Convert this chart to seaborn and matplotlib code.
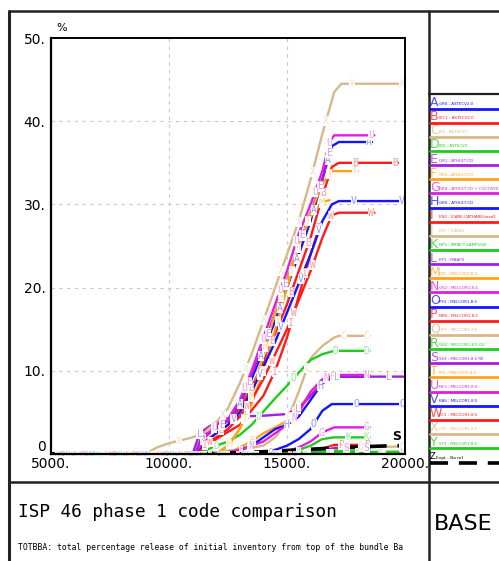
import numpy as np
import pandas as pd
import matplotlib
matplotlib.use("Agg")
import matplotlib.pyplot as plt
from matplotlib.lines import Line2D
import seaborn as sns

# ---------------- data ----------------
letters = list("ABCDEFGHIJKLMNOPQRSTUVWXY")
names = ["GRS ; ASTECV2.0", "IEC1 ; ASTECV2.0", "IPS ; ASTECV2", "IRS ; ASTECV2",
         "GR1 ; ATHLET-CD", "GR1 ; ATHLET-CD", "GR4 ; ATHLET-CD + COCOSYS", "GRS ; ATHLET-CD",
         "EN2 ; ICARE-CATHARE(mod1.", "KP1 ; ICARE2", "NPS ; IMPACT-SAMPSON", "EP1 ; MAAP4",
         "EP1 ; MELCOR1.8.4", "GS2 ; MELCOR1.8.4", "PS1 ; MELCOR1.8.5", "NRS ; MELCOR1.8.5",
         "UPS ; MELCOR1.8.5", "GS2 ; MELCOR1.8.5 G2", "SS3 ; MELCOR1.8.5 RE", "IRS ; MELCOR1.8.5",
         "NF2 ; MELCOR1.8.5", "KAS ; MELCOR1.8.5", "KC1 ; MELCOR1.8.5", "CS1 ; MELCOR1.8.5",
         "ST1 ; MELCOR1.8.5"]

A_t = [5000, 11200, 11500, 12000, 12500, 13000, 13500, 14000, 14500, 15000, 15500, 16000, 16500, 16900, 17200, 18600]
A_v = [0, 0, 2, 3.2, 4, 6, 9, 12.5, 16, 20, 24, 28, 33, 37, 37.5, 37.5]
B_t = [5000, 11200, 11500, 12000, 12500, 13000, 13500, 14000, 14500, 15000, 15500, 16000, 16500, 16900, 17200, 19700]
B_v = [0, 0, 1.5, 2.5, 3.5, 5.5, 8, 11, 14.5, 18, 22, 26, 31, 34.5, 35, 35]
C_t = [5000, 11500, 12000, 13000, 14000, 14500, 15000, 15500, 16000, 16500, 17000, 17200, 18500]
C_v = [0, 0, 0.3, 0.5, 1, 2, 4, 7.5, 11.5, 13, 14, 14.2, 14.2]
D_t = [5000, 11200, 12000, 12500, 13000, 13500, 14000, 14500, 15000, 15500, 16000, 16500, 17000, 18500]
D_v = [0, 0, 1, 1.5, 2.3, 3.5, 5.1, 6.7, 8.2, 9.8, 11.3, 12, 12.4, 12.4]
E_t = [5000, 11100, 11400, 12000, 12500, 13000, 13500, 14000, 14500, 15000, 15500, 16000, 16500, 16800]
E_v = [0, 0, 2.2, 3, 4, 6, 9.5, 13, 17, 21, 25, 29, 33, 36.5]
F_t = [5000, 12500, 13000, 13500, 14000, 14500, 15000, 15500, 16000, 16500, 17000, 18500]
F_v = [0, 0, 0.8, 1.5, 2.5, 3.2, 4, 5.5, 7.3, 8.7, 9.3, 9.3]
G_t = [5000, 14000, 15000, 15500, 16000, 16500, 17000, 18500]
G_v = [0, 0, 0.3, 0.8, 1.5, 2.6, 3.2, 3.2]
H_t = [5000, 12500, 13000, 13500, 14000, 14500, 15000, 15500, 16000, 16500, 17000, 18500]
H_v = [0, 0, 0.5, 1, 2, 3, 3.5, 4.5, 6.5, 8.5, 9.3, 9.3]
I_t = [5000, 11200, 11500, 12000, 13000, 14000, 14500, 15000, 15500, 16000, 16400]
I_v = [0, 0, 1, 1.8, 3.5, 7, 10, 14, 19, 24, 27.5]
J_t = [5000, 15000, 17000, 20000]
J_v = [0, 0, 0.2, 0.3]
K_t = [5000, 14500, 15500, 16000, 16500, 17000, 18500]
K_v = [0, 0, 0.5, 1, 1.8, 2, 2]
L_t = [5000, 11000, 11300, 11700, 12000, 12500, 13000, 14000, 15000, 15500, 16000, 16500, 16800, 17000, 20000]
L_v = [0, 0, 2.5, 3.3, 3.8, 4.3, 4.5, 4.6, 4.8, 5.5, 7, 8.5, 9.2, 9.3, 9.3]
M_t = [5000, 12000, 12500, 13000, 13500, 14000, 14500, 15000, 15500, 16000, 16500, 16800]
M_v = [0, 0, 1, 3, 7, 12, 17, 21, 25, 28.5, 30.3, 30.5]
N_t = [5000, 12000, 13000, 14000, 14500, 15000, 15500, 16000, 16500, 17000, 18500]
N_v = [0, 0, 0.5, 1.5, 2.5, 3.5, 5, 7.5, 9, 9.5, 9.5]
O_t = [5000, 13500, 14500, 15000, 15500, 16000, 16500, 16900, 20000]
O_v = [0, 0, 0.5, 1, 1.8, 3, 5.2, 6, 6]
P_t = [5000, 15000, 16000, 16800, 17000, 18500]
P_v = [0, 0, 0.3, 0.9, 1.1, 1.1]
Q_t = [5000, 14000, 16000, 17000, 20000]
Q_v = [0, 0, 0.3, 0.8, 0.9]
R_t = [5000, 15500, 17000, 20000]
R_v = [0, 0, 0.2, 0.25]
S_t = [5000, 15500, 16500, 17000, 18500]
S_v = [0, 0, 0.4, 0.7, 0.7]
T_t = [5000, 12000, 12500, 13000, 13500, 14000, 14500, 15000, 15500, 16000, 16500, 16900, 18000]
T_v = [0, 0, 1, 3, 6, 10, 15, 20, 25, 29, 32.5, 34, 34]
U_t = [5000, 11200, 11500, 12000, 12500, 13000, 13500, 14000, 14500, 15000, 15500, 16000, 16500, 16800, 17000, 18700]
U_v = [0, 0, 2, 3.5, 4.2, 6.5, 10, 14, 18, 22, 26.5, 30, 34, 37.5, 38.3, 38.3]
V_t = [5000, 11200, 11600, 12000, 12500, 13000, 13500, 14000, 14500, 15000, 15500, 16000, 16500, 16900, 17200, 20000]
V_v = [0, 0, 1.5, 2.5, 3.5, 5, 7.5, 10.5, 13.5, 17, 20.5, 24, 28, 30, 30.4, 30.4]
W_t = [5000, 11200, 11600, 12000, 12500, 13000, 13500, 14000, 14500, 15000, 15500, 16000, 16500, 16900, 17200, 18700]
W_v = [0, 0, 1.2, 2, 3, 4.5, 6.5, 9, 12, 15, 18.5, 22, 26, 28.7, 29, 29]
X_t = [5000, 9000, 9500, 10000, 11000, 11500, 12000, 12500, 13000, 13500, 14000, 14500, 15000, 15500, 16000, 16500, 17000, 17300, 20000]
X_v = [0, 0, 0.8, 1.3, 2, 2.6, 3.8, 5.5, 8.5, 12, 16, 20, 24, 28, 33, 38.5, 43.5, 44.5, 44.5]
Y_t = [5000, 15500, 16500, 17000, 18500]
Y_v = [0, 0, 0.3, 0.4, 0.4]
Z_t = [5000, 10500, 11500, 12500, 13500, 14500, 15500, 16500, 17500, 18500, 19500, 20000]
Z_v = [0, 0, 0.05, 0.1, 0.2, 0.35, 0.5, 0.65, 0.8, 0.9, 1.0, 1.0]

series_t = [A_t, B_t, C_t, D_t, E_t, F_t, G_t, H_t, I_t, J_t, K_t, L_t, M_t, N_t, O_t, P_t, Q_t, R_t, S_t, T_t, U_t, V_t, W_t, X_t, Y_t]
series_v = [A_v, B_v, C_v, D_v, E_v, F_v, G_v, H_v, I_v, J_v, K_v, L_v, M_v, N_v, O_v, P_v, Q_v, R_v, S_v, T_v, U_v, V_v, W_v, X_v, Y_v]

x_ticks = [5000, 10000, 15000, 20000]
x_ticklabels = ["5000.", "10000.", "15000.", "20000."]
y_ticks = [0, 10, 20, 30, 40, 50]
y_ticklabels = ["0", "10.", "20.", "30.", "40.", "50."]

# ---------------- style ----------------
cycle = ["#1414ff", "#ff1a1a", "#d8b888", "#1ecc1e", "#a41ee0", "#ffa21a", "#e01ee0"]
colors = [cycle[i % 7] for i in range(25)]

sns.set_theme(style="white")
plt.rcParams["font.family"] = ["Liberation Sans Narrow", "DejaVu Sans"]

W, H = 499, 561
fig = plt.figure(figsize=(W / 100, H / 100), dpi=100)
fig.patch.set_facecolor("white")


def fx(px):
    return px / W


def fy(py):
    return 1 - py / H


ax = fig.add_axes([fx(51), fy(454), (405 - 51) / W, (454 - 38) / H])
ax.set_facecolor("white")
ax.set_xlim(5000, 20000)
ax.set_ylim(0, 50)

frames = []
for i, L in enumerate(letters):
    frames.append(pd.DataFrame({"t": series_t[i], "v": series_v[i], "s": L}))
df = pd.concat(frames, ignore_index=True)

for i, L in enumerate(letters):
    sub = df[df["s"] == L]
    sns.lineplot(data=sub, x="t", y="v", color=colors[i], lw=1.7, ax=ax,
                 legend=False, zorder=2)

dz = pd.DataFrame({"t": Z_t, "v": Z_v})
sns.lineplot(data=dz, x="t", y="v", color="black", lw=2.6, ax=ax, legend=False,
             zorder=2.2)
ax.lines[-1].set_dashes([5, 3])

# curve labels (letters along the curves)
fig.canvas.draw()
inv = ax.transData.inverted()
spacing = 52.0
for i, L in enumerate(letters):
    pts = ax.transData.transform(np.column_stack([series_t[i], series_v[i]]))
    seg = np.hypot(np.diff(pts[:, 0]), np.diff(pts[:, 1]))
    cum = np.concatenate([[0], np.cumsum(seg)])
    phase = 6 + (i * 19) % spacing
    s_pos = np.arange(phase, cum[-1] - 2, spacing)
    if len(s_pos) and cum[-1] - s_pos[-1] > 20:
        s_pos = np.append(s_pos, cum[-1] - 3)
    xs = np.interp(s_pos, cum, pts[:, 0])
    ys = np.interp(s_pos, cum, pts[:, 1])
    dpts = inv.transform(np.column_stack([xs, ys]))
    for (tx, ty) in dpts:
        small = ty < 0.6
        ax.text(tx, ty, L, color=colors[i], alpha=0.45,
                fontsize=5 if small else 7,
                ha="center", va="center", zorder=3,
                family=["DejaVu Sans Mono"],
                bbox=dict(fc="white", ec="none", pad=0.1))

ax.text(19650, 2.1, "S", color="black", fontsize=9, fontweight="bold",
        ha="center", va="center", zorder=4)

# axes decoration
ax.set_xticks(x_ticks)
ax.set_xticklabels(x_ticklabels)
ax.set_yticks(y_ticks)
ax.set_yticklabels(y_ticklabels)
ax.set_xticks(np.arange(5000, 20001, 500), minor=True)
ax.set_yticks(np.arange(0, 50.1, 2), minor=True)
ax.tick_params(axis="both", which="both", direction="in", colors="black",
               labelsize=10, width=1)
ax.tick_params(axis="both", which="major", length=5, pad=2)
ax.tick_params(axis="both", which="minor", length=4)
ax.tick_params(axis="x", which="both", top=False)
ax.tick_params(axis="y", which="both", right=False)
ax.tick_params(axis="y", which="major", pad=4)
for lab in ax.get_yticklabels():
    if lab.get_text() == "0":
        lab.set_verticalalignment("bottom")
ax.grid(True, which="major", color="#c8c8c8", lw=0.8, ls=(0, (3, 4)))
ax.set_xlabel("")
ax.set_ylabel("")
for sp in ax.spines.values():
    sp.set_visible(True)
    sp.set_color("black")
    sp.set_zorder(6)
ax.spines["left"].set_linewidth(1.6)
ax.spines["bottom"].set_linewidth(1.6)
ax.spines["top"].set_linewidth(1.4)
ax.spines["right"].set_linewidth(1.4)

fig.text(fx(56), fy(28), "%", fontsize=8, ha="left", va="center", color="black")

# frame lines
def fline(x0, y0, x1, y1, lw=1.6):
    fig.add_artist(Line2D([fx(x0), fx(x1)], [fy(y0), fy(y1)], color="#222222", lw=lw))

fline(9, 11, 9, 561, 2.2)
fline(9, 11, 499, 11, 1.8)
fline(429, 11, 429, 561, 1.8)
fline(429, 94, 499, 94, 1.6)
fline(9, 482, 499, 482, 1.8)

# title block
fig.text(fx(18), fy(512), "ISP 46 phase 1 code comparison", fontsize=12.8,
         family=["DejaVu Sans Mono"], ha="left", va="center", color="black")
fig.text(fx(18), fy(548),
         "TOTBBA: total percentage release of initial inventory from top of the bundle Ba",
         fontsize=5.9, family=["DejaVu Sans Mono"], ha="left", va="center", color="black")
fig.text(fx(463), fy(524), "BASE", fontsize=16, ha="center", va="center", color="black")

# legend column
y0, dy = 102.5, 14.15
for i, L in enumerate(letters):
    yp = y0 + i * dy
    fig.text(fx(430), fy(yp), L, color=colors[i], alpha=0.75, fontsize=9,
             ha="left", va="center")
    fig.text(fx(439), fy(yp + 1.5), names[i], color=colors[i], fontsize=2.9,
             ha="left", va="center")
    fig.add_artist(Line2D([fx(430), fx(499)], [fy(yp + 6), fy(yp + 6)],
                          color=colors[i], lw=2))
yp = y0 + 25 * dy
fig.text(fx(430), fy(yp), "Z", color="black", fontsize=6, ha="left", va="center")
fig.text(fx(436), fy(yp + 1.5), "Expt - Ba rel", color="black", fontsize=3.2,
         ha="left", va="center")
fig.add_artist(Line2D([fx(430), fx(499)], [fy(yp + 7), fy(yp + 7)],
                      color="black", lw=2.6, dashes=[5, 3]))

fig.savefig("out.png", dpi=100)
